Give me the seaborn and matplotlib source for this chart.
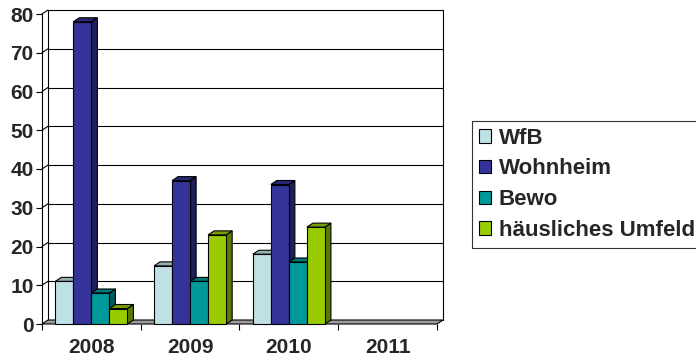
import numpy as np
import pandas as pd
import matplotlib
matplotlib.use("Agg")
import matplotlib.pyplot as plt
import matplotlib.colors as mcolors
from matplotlib.patches import Polygon, Patch
import seaborn as sns

# ---- data ----
years = ["2008", "2009", "2010", "2011"]
series = ["WfB", "Wohnheim", "Bewo", "häusliches Umfeld"]
wfb = [11, 15, 18, np.nan]
wohnheim = [78, 37, 36, np.nan]
bewo = [8, 11, 16, np.nan]
haeuslich = [4, 23, 25, np.nan]
y_ticks = [0, 10, 20, 30, 40, 50, 60, 70, 80]

front_colors = ["#BFE1E5", "#333399", "#009999", "#99CC00"]

rows = []
for name, vals in zip(series, [wfb, wohnheim, bewo, haeuslich]):
    for yr, v in zip(years, vals):
        rows.append({"Jahr": yr, "Reihe": name, "Wert": v})
df = pd.DataFrame(rows).dropna()

sns.set_style("white")
plt.rcParams["font.family"] = ["Liberation Sans", "DejaVu Sans"]
plt.rcParams["font.weight"] = "bold"

W, H = 696, 361
fig = plt.figure(figsize=(W / 100, H / 100), dpi=100)
ax_l, ax_r, ax_b, ax_t = 42, 437, 324, 14
ax = fig.add_axes([ax_l / W, (H - ax_b) / H, (ax_r - ax_l) / W, (ax_b - ax_t) / H])

palette = dict(zip(series, front_colors))
sns.barplot(data=df, x="Jahr", y="Wert", hue="Reihe", order=years,
            hue_order=series, palette=palette, width=0.73, saturation=1,
            edgecolor="black", linewidth=0.8, errorbar=None, legend=False, ax=ax)

ax.set_xlim(-0.5, len(years) - 0.5)
ax.set_ylim(y_ticks[0], y_ticks[-1])

# pixel depth offset -> data units
px_x = (ax_r - ax_l) / len(years)
px_y = (ax_b - ax_t) / (y_ticks[-1] - y_ticks[0])
dx = 6 / px_x
dy = 4 / px_y

def shade(c, f):
    r, g, b, a = mcolors.to_rgba(c)
    return (r * f, g * f, b * f, 1)

x0w, x1w = -0.5, len(years) - 0.5
ytop = y_ticks[-1]

# back wall gridlines and left wall
for v in y_ticks[1:]:
    ax.plot([x0w + dx, x1w + dx], [v + dy, v + dy], color="black", lw=0.8,
            zorder=0.5, clip_on=False)
    ax.plot([x0w, x0w + dx], [v, v + dy], color="black", lw=0.8,
            zorder=0.5, clip_on=False)
ax.plot([x0w + dx, x0w + dx], [dy, ytop + dy], color="black", lw=0.8, zorder=0.5, clip_on=False)
ax.plot([x1w + dx, x1w + dx], [dy, ytop + dy], color="black", lw=0.8, zorder=0.5, clip_on=False)

# floor
floor = Polygon([(x0w, 0), (x1w, 0), (x1w + dx, dy), (x0w + dx, dy)],
                closed=True, facecolor="#9C9C9C", edgecolor="black", lw=0.8,
                zorder=0.8, clip_on=False)
ax.add_patch(floor)

# 3D faces for bars
bars = [p for p in ax.patches if isinstance(p, matplotlib.patches.Rectangle)
        and p is not floor and np.isfinite(p.get_height()) and p.get_height() > 0]
bars.sort(key=lambda p: p.get_x())
for i, p in enumerate(bars):
    x0, w, h = p.get_x(), p.get_width(), p.get_height()
    x1 = x0 + w
    fc = p.get_facecolor()
    z = 2 + i * 0.01
    side = Polygon([(x1, 0), (x1, h), (x1 + dx, h + dy), (x1 + dx, dy)], closed=True,
                   facecolor=shade(fc, 0.6), edgecolor="black", lw=0.8, zorder=z, clip_on=False)
    top = Polygon([(x0, h), (x1, h), (x1 + dx, h + dy), (x0 + dx, h + dy)], closed=True,
                  facecolor=shade(fc, 0.78), edgecolor="black", lw=0.8, zorder=z, clip_on=False)
    ax.add_patch(side)
    ax.add_patch(top)
    p.set_zorder(z + 0.005)
    p.set_clip_on(False)

# axes styling
for s in ["top", "right", "bottom"]:
    ax.spines[s].set_visible(False)
ax.spines["left"].set_color("black")
ax.spines["left"].set_linewidth(0.8)
ax.set_yticks(y_ticks)
ax.set_yticklabels([str(v) for v in y_ticks], fontsize=15, fontweight="bold")
ax.tick_params(axis="y", which="major", direction="out", length=4, width=0.8,
               color="black", pad=2, left=True)
ax.set_xticks(range(len(years)))
ax.set_xticklabels(years, fontsize=15, fontweight="bold")
ax.set_xticks(np.arange(-0.5, len(years)), minor=True)
ax.tick_params(axis="x", which="major", length=0, pad=10, bottom=True)
ax.tick_params(axis="x", which="minor", direction="out", length=4, width=0.8,
               color="black", bottom=True)
ax.set_xlabel("")
ax.set_ylabel("")
ax.grid(False)
ax.patch.set_alpha(0)

handles = [Patch(facecolor=c, edgecolor="black", lw=0.8) for c in front_colors]
leg = fig.legend(handles, series, loc="upper left",
                 bbox_to_anchor=(472 / W, (H - 121) / H), frameon=True, fancybox=False,
                 edgecolor="black", prop={"size": 16, "weight": "bold"},
                 handlelength=0.55, handleheight=0.55, handletextpad=0.35,
                 labelspacing=0.44, borderpad=0.3, borderaxespad=0)
leg.get_frame().set_linewidth(0.8)

fig.savefig("out.png", dpi=100)
